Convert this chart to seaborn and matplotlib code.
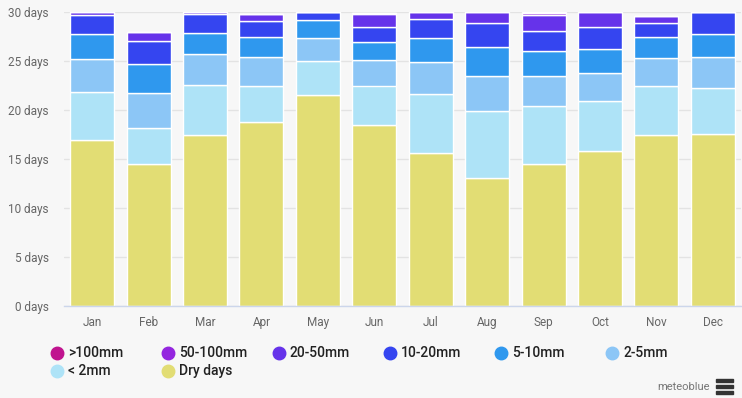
import matplotlib
matplotlib.use('Agg')
import matplotlib.pyplot as plt
import seaborn as sns
import numpy as np
from matplotlib.lines import Line2D
from matplotlib.patches import Rectangle

# 每月降水日數 (meteoblue)
months = ['Jan', 'Feb', 'Mar', 'Apr', 'May', 'Jun', 'Jul', 'Aug', 'Sep', 'Oct', 'Nov', 'Dec']

dry_days = [16.9, 14.5, 17.4, 18.8, 21.5, 18.5, 15.6, 13.1, 14.5, 15.8, 17.4, 17.6]
lt_2mm = [4.9, 3.7, 5.2, 3.7, 3.5, 4.0, 6.0, 6.75, 5.9, 5.1, 5.1, 4.6]
mm_2_5 = [3.4, 3.5, 3.1, 2.9, 2.3, 2.6, 3.3, 3.65, 3.1, 2.9, 2.8, 3.2]
mm_5_10 = [2.6, 3.0, 2.2, 2.0, 1.9, 1.8, 2.4, 2.9, 2.5, 2.4, 2.1, 2.4]
mm_10_20 = [1.9, 2.3, 1.9, 1.65, 0.8, 1.6, 2.0, 2.45, 2.1, 2.3, 1.45, 2.2]
mm_20_50 = [0.3, 1.0, 0.2, 0.75, 0.0, 1.3, 0.7, 1.15, 1.6, 1.5, 0.75, 0.0]
mm_50_100 = [0.0, 0.0, 0.0, 0.0, 0.0, 0.12, 0.0, 0.0, 0.15, 0.0, 0.0, 0.0]
mm_gt_100 = [0.0, 0.0, 0.0, 0.0, 0.0, 0.0, 0.0, 0.0, 0.12, 0.0, 0.0, 0.0]

series = [dry_days, lt_2mm, mm_2_5, mm_5_10, mm_10_20, mm_20_50, mm_50_100, mm_gt_100]
series_labels = ['Dry days', '< 2mm', '2-5mm', '5-10mm', '10-20mm', '20-50mm', '50-100mm', '>100mm']
colors = ['#e2dd74', '#aee3f7', '#8cc6f6', '#2f98ee', '#3545f0', '#6633ea', '#9426df', '#c0138f']

yticks = [0, 5, 10, 15, 20, 25, 30]

sns.set_style('white')
plt.rcParams['font.family'] = ['Roboto', 'DejaVu Sans']

bg = '#f7f7f7'
fig = plt.figure(figsize=(7.42, 3.98), dpi=100, facecolor=bg)
ax = fig.add_axes([64 / 742, 1 - 306 / 398, 677 / 742, 294 / 398])
ax.set_facecolor(bg)

'''_____________________________________________________________________堆疊長條'''
bottom = np.zeros(len(months))
for vals, col in zip(series, colors):
    sns.barplot(x=months, y=vals, bottom=bottom, color=col, width=0.78,
                edgecolor='white', linewidth=1, saturation=1, ax=ax, zorder=2)
    bottom = bottom + np.array(vals)

ax.set_ylim(0, 30)
ax.set_xlim(-0.5, 11.5)
ax.set_yticks(yticks)
ax.set_yticklabels([f'{t} days' for t in yticks])
ax.set_xlabel('')
ax.set_ylabel('')
ax.grid(axis='y', color='#e3e3e3', linewidth=1, zorder=0)
ax.set_axisbelow(True)
for s in ['top', 'right', 'left']:
    ax.spines[s].set_visible(False)
ax.spines['bottom'].set_color('#ccd6eb')
ax.spines['bottom'].set_linewidth(1)
ax.tick_params(axis='y', length=0, pad=11, labelsize=8.5, labelcolor='#666666')
ax.tick_params(axis='x', length=0, pad=7, labelsize=8.5, labelcolor='#666666')

'''_____________________________________________________________________圖例'''
legend_order = ['>100mm', '50-100mm', '20-50mm', '10-20mm', '5-10mm', '2-5mm', '< 2mm', 'Dry days']
for i, lab in enumerate(legend_order):
    r, c = divmod(i, 6)
    x = (57 + c * 111) / 742
    y = 1 - (353 + r * 18) / 398
    col = colors[series_labels.index(lab)]
    fig.add_artist(Line2D([x], [y], marker='o', markersize=9, color=col,
                          linestyle='none', transform=fig.transFigure))
    fig.text(x + 11 / 742, y, lab, fontsize=10, fontweight='medium', color='#222222',
             va='center', ha='left')

fig.text(710 / 742, 1 - 387 / 398, 'meteoblue', fontsize=8, color='#777777', ha='right', va='center')
# 選單圖示
for k in range(3):
    fig.add_artist(Rectangle((716 / 742, 1 - (382 + k * 6) / 398), 17 / 742, 3 / 398,
                             color='#333333', transform=fig.transFigure))

plt.savefig('out.png', dpi=100, facecolor=bg)
